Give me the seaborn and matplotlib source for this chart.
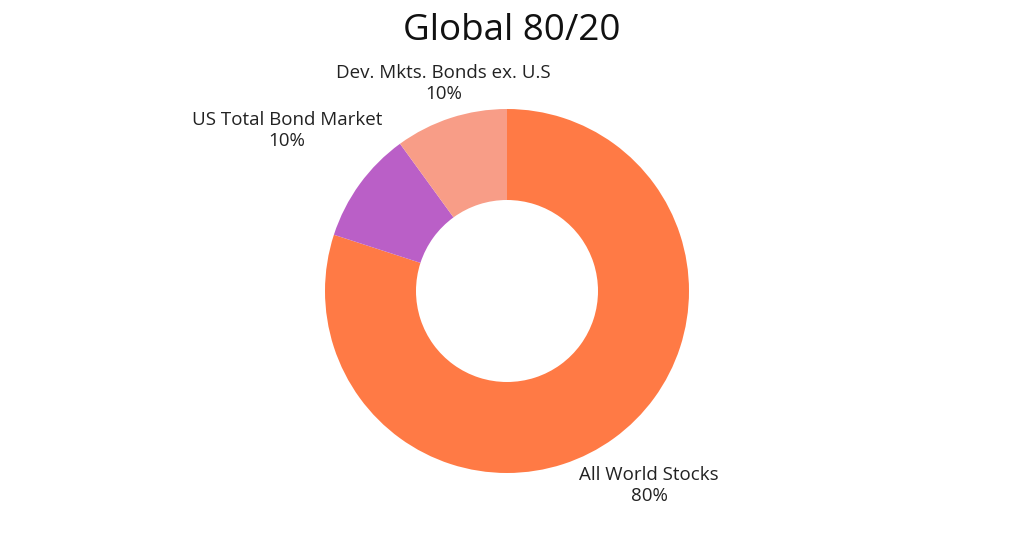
import matplotlib
matplotlib.use("Agg")
import seaborn as sns
import matplotlib.pyplot as plt

# data
categories = ["All World Stocks", "US Total Bond Market", "Dev. Mkts. Bonds ex. U.S"]
shares = [80, 10, 10]
colors = ["#FF7A45", "#BA5FC7", "#F89D87"]
title = "Global 80/20"

# label anchor positions (in units of the outer radius)
label_pos = [(0.78, -1.07), (-1.21, 0.88), (-0.35, 1.14)]

sns.set_theme(style="white")
plt.rcParams['font.family'] = ['Open Sans', 'DejaVu Sans']

fig = plt.figure(figsize=(10.24, 5.36), dpi=100)
# square axes in pixels, centre at (507, 291) from top, radius 182 px
R = 182
cx, cy = 507, 536 - 291
ax = fig.add_axes([(cx - R) / 1024, (cy - R) / 536, 2 * R / 1024, 2 * R / 536])

ax.pie(shares, colors=sns.color_palette(colors), startangle=90, counterclock=False,
       radius=1, wedgeprops=dict(width=0.5, linewidth=0),
       frame=False)
ax.set_xlim(-1, 1)
ax.set_ylim(-1, 1)
ax.set_aspect("auto")
ax.axis("off")

for name, val, (lx, ly) in zip(categories, shares, label_pos):
    ax.text(lx, ly, f"{name}\n{val}%", ha="center", va="center", fontsize=13.5,
            color="#222222", linespacing=1.2, clip_on=False)

fig.text(0.5, 1 - 31 / 536, title, ha="center", va="center", fontsize=26.5, color="#111111")

fig.savefig("out.png", dpi=100, facecolor="white")
